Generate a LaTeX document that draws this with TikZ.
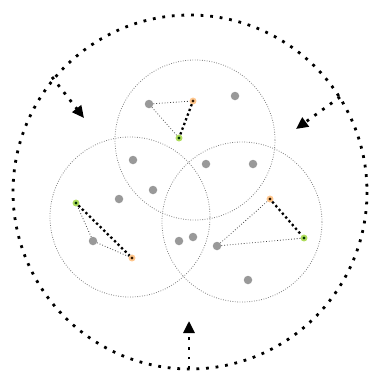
\documentclass[tikz,border=0pt]{standalone}
\usetikzlibrary{arrows.meta}
\begin{document}
\begin{tikzpicture}[x=1pt, y=-1pt, >={Triangle[length=12pt, width=11pt]},
  bigdots/.style={line width=2.8pt, dash pattern=on 2.8pt off 6.8pt},
  zone/.style={gray, line width=0.8pt, dash pattern=on 0.8pt off 1.6pt},
  item/.style={circle, fill=gray!80, inner sep=0pt, minimum size=8.5pt},
  hot/.style={circle, fill=black!80!orange, draw=orange!45, line width=1.8pt, inner sep=0pt, minimum size=5pt},
  cool/.style={circle, fill=black!80!green, draw=yellow!55!green!70, line width=1.8pt, inner sep=0pt, minimum size=5pt},
  link/.style={black!75, line width=0.8pt, dash pattern=on 0.8pt off 2pt},
  strong/.style={black, line width=2.3pt, dash pattern=on 2.3pt off 2.7pt}]
  \useasboundingbox (0,0) rectangle (371,372);

  % Outer boundary
  \draw[bigdots] (190,192) circle (177);

  % Three overlapping ranges
  \foreach \cx/\cy in {195/140, 130/217, 242/222} {
    \draw[zone] (\cx,\cy) circle (80);
  }

  % Plain members
  \foreach \name/\px/\py in {p1/235/96, p2/133/160, p3/153/190, p4/119/199,
                            p5/206/164, p6/253/164, p7/179/241, p8/193/237, p9/248/280} {
    \node[item] (\name) at (\px,\py) {};
  }

  % Top group
  \node[item] (ta) at (149,104) {};
  \node[hot]  (tb) at (193,101) {};
  \node[cool] (tc) at (179,138) {};
  \draw[link] (ta) -- (tb);
  \draw[link] (ta) -- (tc);
  \draw[strong] (tb) -- (tc);

  % Left group
  \node[cool] (la) at (76,203) {};
  \node[item] (lb) at (93,241) {};
  \node[hot]  (lc) at (132,258) {};
  \draw[link] (lb) -- (la);
  \draw[link] (lb) -- (lc);
  \draw[strong] (la) -- (lc);

  % Right group
  \node[hot]  (ra) at (270,199) {};
  \node[cool] (rb) at (304,238) {};
  \node[item] (rc) at (217,246) {};
  \draw[link] (rc) -- (ra);
  \draw[link] (rc) -- (rb);
  \draw[strong] (ra) -- (rb);

  % Incoming arrows from the boundary
  \coordinate (s1) at (52,77);
  \coordinate (e1) at (84,118);
  \coordinate (s2) at (340,97);
  \coordinate (e2) at (296,129);
  \coordinate (s3) at (189,369);
  \coordinate (e3) at (189,321);
  \draw[bigdots, ->] (s1) -- (e1);
  \draw[bigdots, ->] (s2) -- (e2);
  \draw[bigdots, ->] (s3) -- (e3);
\end{tikzpicture}
\end{document}
